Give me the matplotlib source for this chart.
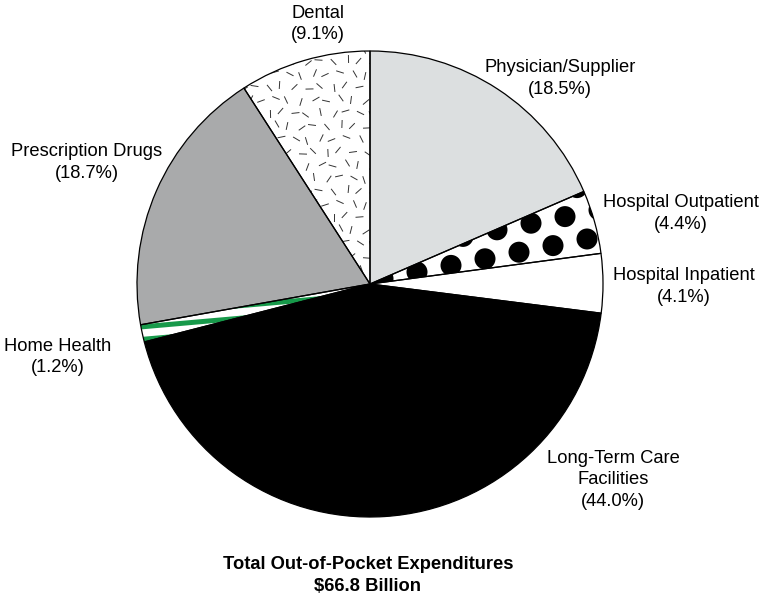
import numpy as np
import matplotlib
matplotlib.use("Agg")
import matplotlib.pyplot as plt
from matplotlib.patches import Circle, Wedge
from matplotlib.lines import Line2D

plt.rcParams['font.family'] = ['Liberation Sans', 'DejaVu Sans']

categories = ["Physician/Supplier", "Hospital Outpatient", "Hospital Inpatient",
              "Long-Term Care\nFacilities", "Home Health", "Prescription Drugs", "Dental"]
values = [18.5, 4.4, 4.1, 44.0, 1.2, 18.7, 9.1]
colors = ["#dcdfe0", "white", "white", "black", "white", "#a9aaab", "white"]
title_lines = "Total Out-of-Pocket Expenditures\n$66.8 Billion"

W, H = 768, 599
fig = plt.figure(figsize=(W / 100, H / 100), dpi=100)
ax = fig.add_axes([0, 0, 1, 1])

def Y(y):
    return H - y

cx, cy, R = 370, Y(284), 233
wedges, _ = ax.pie(values, startangle=90, counterclock=False, center=(cx, cy), radius=R,
                   colors=colors, wedgeprops=dict(edgecolor="none", linewidth=0))
ax.set_xlim(0, W)
ax.set_ylim(0, H)
ax.set_aspect("equal")
ax.axis("off")
for w in wedges:
    w.set_zorder(1)

# Dots in Hospital Outpatient
w_out = wedges[1]
a = np.array([34.0, 6.6])
b = np.array([12.0, 29.0])
o = np.array([417.0, Y(272)])
for i in range(-5, 12):
    for j in range(-4, 5):
        p = o + i * a + j * b
        c = Circle(p, 10.5, facecolor="black", edgecolor="none", zorder=3)
        ax.add_patch(c)
        c.set_clip_path(w_out)

# Green stripes in Home Health
w_hh = wedges[4]
ang = np.deg2rad(5)
d = np.array([np.cos(ang), np.sin(ang)])
nrm = np.array([-np.sin(ang), np.cos(ang)])
base = np.array([140.0, Y(327)])
for k in range(-12, 13):
    p0 = base + k * 12.5 * nrm - 50 * d
    p1 = base + k * 12.5 * nrm + 400 * d
    ln = Line2D([p0[0], p1[0]], [p0[1], p1[1]], color="#17994a", lw=3.6, zorder=3,
                solid_capstyle="butt")
    ax.add_line(ln)
    ln.set_clip_path(w_hh)

# Dash texture in Dental
w_d = wedges[6]
sp = 13.0
for i in range(0, 14):
    for j in range(0, 19):
        x = 236 + i * sp + (j % 2) * 6.5 + ((i * 7 + j * 3) % 5) - 2
        y = Y(48) - j * sp + ((i * 3 + j * 5) % 5) - 2
        t = np.deg2rad((i * 137.5 + j * 71.3) % 180)
        dx, dy = 3.5 * np.cos(t), 3.5 * np.sin(t)
        ln = Line2D([x - dx, x + dx], [y - dy, y + dy], color="#333333", lw=0.7, zorder=3)
        ax.add_line(ln)
        ln.set_clip_path(w_d)

# wedge outlines on top
for w in wedges:
    ax.add_patch(Wedge(w.center, w.r, w.theta1, w.theta2, facecolor="none",
                       edgecolor="black", lw=0.9, zorder=5))

fs = 13.2
ls = 1.35
labels = [
    ("Dental\n(9.1%)", 318, 24),
    ("Physician/Supplier\n(18.5%)", 560, 78.5),
    ("Hospital Outpatient\n(4.4%)", 681, 213.5),
    ("Hospital Inpatient\n(4.1%)", 684, 286.5),
    ("Long-Term Care\nFacilities\n(44.0%)", 613, 480),
    ("Home Health\n(1.2%)", 58, 357),
    ("Prescription Drugs\n(18.7%)", 87, 162.5),
]
for txt, x, y in labels:
    ax.text(x, Y(y), txt, ha="center", va="center", fontsize=fs, linespacing=ls, zorder=10)

ax.text(368, Y(575.5), title_lines, ha="center", va="center", fontsize=fs,
        fontweight="bold", linespacing=ls, zorder=10)

fig.savefig("out.png", dpi=100)
